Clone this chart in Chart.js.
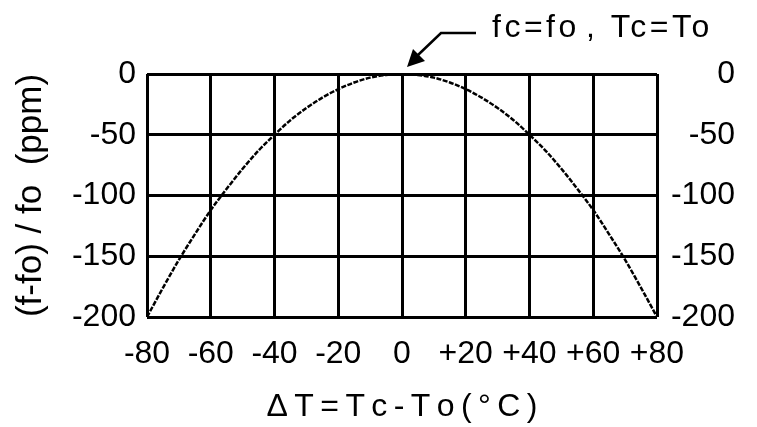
<!DOCTYPE html>
<html>
<head>
<meta charset="utf-8">
<script src="https://cdn.jsdelivr.net/npm/chart.js@4/dist/chart.umd.min.js"></script>
<style>
  html, body { margin: 0; padding: 0; background: #fff; }
  #kutu { width: 757px; height: 427px; }
</style>
</head>
<body>
<div id="kutu"><canvas id="grafik"></canvas></div>
<script>
// Sıcaklık farkı (°C) ve frekans sapması (ppm)
const sicaklikFarki = [-80, -75, -70, -65, -60, -55, -50, -45, -40, -35, -30, -25, -20, -15, -10, -5, 0,
                       5, 10, 15, 20, 25, 30, 35, 40, 45, 50, 55, 60, 65, 70, 75, 80];
const frekansSapmasi = [-200, -176, -153, -132, -112, -94.5, -78, -63, -50, -38, -28, -19.5, -12.5, -7, -3, -0.8, 0,
                        -0.8, -3, -7, -12.5, -19.5, -28, -38, -50, -63, -78, -94.5, -112, -132, -153, -176, -200];

const xTikler = [-80, -60, -40, -20, 0, 20, 40, 60, 80];
const yTikler = [0, -50, -100, -150, -200];

const notMetni = 'fc=fo\u200A, Tc=To';
const xBaslik = 'ΔT=Tc-To(°C)'.split('').join('\u2009');
const yBaslik = '(f-fo) / fo  (ppm)';

const yaziTipi = "'Liberation Sans', Arial, sans-serif";

// fc=fo, Tc=To ok işareti
const notEklentisi = {
    id: 'notEklentisi',
    afterDraw(chart) {
        const ctx = chart.ctx;
        const px = chart.scales.x.getPixelForValue(0);
        const py = chart.scales.y.getPixelForValue(0);
        ctx.save();
        ctx.strokeStyle = '#000';
        ctx.fillStyle = '#000';
        ctx.lineWidth = 2.5;
        ctx.beginPath();
        ctx.moveTo(px + 74, py - 41);
        ctx.lineTo(px + 39, py - 41);
        ctx.lineTo(px + 16, py - 19);
        ctx.stroke();
        // ok ucu
        ctx.beginPath();
        ctx.moveTo(px + 5, py - 7);
        ctx.lineTo(px + 11, py - 25);
        ctx.lineTo(px + 23, py - 13);
        ctx.closePath();
        ctx.fill();
        ctx.font = '32px ' + yaziTipi;
        ctx.letterSpacing = '3.5px';
        ctx.textBaseline = 'alphabetic';
        ctx.fillText(notMetni, px + 90, py - 37);
        ctx.restore();
    }
};

new Chart(document.getElementById('grafik').getContext('2d'), {
    type: 'line',
    data: {
        datasets: [{
            data: sicaklikFarki.map((t, i) => ({ x: t, y: frekansSapmasi[i] })),
            borderColor: '#000',
            borderWidth: 2.5,
            borderDash: [5, 1.5],
            pointRadius: 0,
            cubicInterpolationMode: 'monotone',
            fill: false
        }]
    },
    options: {
        responsive: true,
        maintainAspectRatio: false,
        animation: false,
        layout: { padding: { top: 74, right: 22, left: 0, bottom: 0 } },
        plugins: {
            legend: { display: false },
            tooltip: { enabled: false }
        },
        scales: {
            x: {
                type: 'linear',
                min: -80,
                max: 80,
                afterBuildTicks: s => { s.ticks = xTikler.map(v => ({ value: v })); },
                afterFit: s => { s.height = 110; },
                grid: { color: '#000', lineWidth: 3, drawTicks: false },
                border: { display: false },
                ticks: {
                    color: '#000',
                    font: { size: 32, family: yaziTipi },
                    padding: 18,
                    autoSkip: false,
                    maxRotation: 0,
                    callback: v => (v > 0 ? '+' + v : String(v))
                },
                title: {
                    display: true,
                    text: xBaslik,
                    color: '#000',
                    font: { size: 32, family: yaziTipi },
                    padding: { top: 0, bottom: 1 }
                }
            },
            y: {
                position: 'left',
                min: -200,
                max: 0,
                afterBuildTicks: s => { s.ticks = yTikler.map(v => ({ value: v })); },
                afterFit: s => { s.width = 147; },
                grid: { color: '#000', lineWidth: 3, drawTicks: false },
                border: { display: false },
                ticks: {
                    color: '#000',
                    font: { size: 32, family: yaziTipi },
                    padding: 11,
                    callback: v => String(v)
                },
                title: {
                    display: true,
                    text: yBaslik,
                    color: '#000',
                    font: { size: 35, family: yaziTipi },
                    padding: { top: 10, bottom: 0 }
                }
            },
            y2: {
                position: 'right',
                min: -200,
                max: 0,
                afterBuildTicks: s => { s.ticks = yTikler.map(v => ({ value: v })); },
                afterFit: s => { s.width = 78; },
                grid: { display: false, drawTicks: false },
                border: { display: false },
                ticks: {
                    color: '#000',
                    font: { size: 32, family: yaziTipi },
                    padding: 11,
                    crossAlign: 'far',
                    callback: v => String(v)
                }
            }
        }
    },
    plugins: [notEklentisi]
});
</script>
</body>
</html>
